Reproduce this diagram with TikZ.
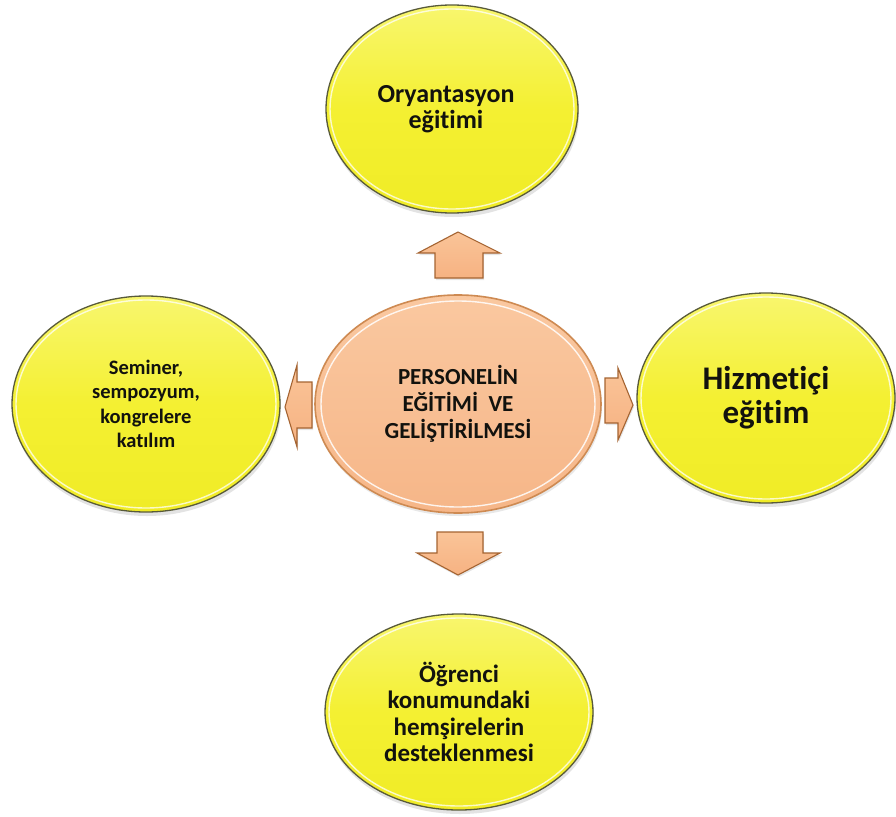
\documentclass[tikz,border=0pt]{standalone}
\usepackage{fontspec}
\setmainfont{Carlito}[Ligatures={NoCommon}]
\usetikzlibrary{shapes.geometric,shadows}

\definecolor{ylwtop}{RGB}{248,246,110}
\definecolor{ylwmid}{RGB}{244,240,50}
\definecolor{ylwbot}{RGB}{240,236,38}
\definecolor{ylwedge}{RGB}{88,90,58}
\definecolor{peachtop}{RGB}{250,200,160}
\definecolor{peachbot}{RGB}{246,182,136}
\definecolor{peachedge}{RGB}{206,138,82}
\definecolor{arrowtop}{RGB}{250,196,152}
\definecolor{arrowbot}{RGB}{246,178,130}
\definecolor{arrowedge}{RGB}{165,100,50}
\definecolor{ink}{RGB}{18,18,14}

\tikzset{
  bubble/.style={ellipse, draw=ylwedge, line width=1.3pt,
    top color=ylwtop, bottom color=ylwbot, middle color=ylwmid,
    align=center, text=ink, inner sep=0pt,
    drop shadow={shadow xshift=1pt, shadow yshift=-4pt, opacity=0.22}},
  hub/.style={ellipse, draw=peachedge, line width=1.6pt,
    top color=peachtop, bottom color=peachbot,
    align=center, text=ink, inner sep=0pt,
    drop shadow={shadow xshift=1pt, shadow yshift=-3pt, opacity=0.18}},
  blockarrow/.style={draw=arrowedge, line width=1.1pt, line join=miter,
    top color=arrowtop, bottom color=arrowbot,
    drop shadow={shadow xshift=1pt, shadow yshift=-2pt, opacity=0.2}},
  shine/.style={draw=white, line width=1.4pt, opacity=0.75}
}

\begin{document}
\begin{tikzpicture}[x=1pt,y=-1pt]
  \fill[white] (0,0) rectangle (896,816);
  \useasboundingbox (0,0) rectangle (896,816);

  % outer topics
  \node[bubble, minimum width=252pt, minimum height=208pt,
        font=\fontsize{26}{26}\selectfont\bfseries] (top) at (452,109)
        {Oryantasyon\hspace*{12pt}\\eğitimi\hspace*{12pt}};
  \node[bubble, minimum width=268pt, minimum height=216pt,
        font=\fontsize{20.5}{24.5}\selectfont\bfseries] (left) at (146,404)
        {Seminer,\\sempozyum,\\kongrelere\\katılım};
  \node[bubble, minimum width=258pt, minimum height=210pt,
        font=\fontsize{33}{34}\selectfont\bfseries] (right) at (766,398)
        {Hizmetiçi\\eğitim};
  \node[bubble, minimum width=268pt, minimum height=196pt,
        font=\fontsize{25}{26.5}\selectfont\bfseries] (bottom) at (459,712)
        {Öğrenci\\konumundaki\\hemşirelerin\\desteklenmesi};

  % inner highlight rings of the outer topics
  \draw[shine] (top.center) ellipse [x radius=122pt, y radius=100pt];
  \draw[shine] (left.center) ellipse [x radius=130pt, y radius=104pt];
  \draw[shine] (right.center) ellipse [x radius=125pt, y radius=101pt];
  \draw[shine] (bottom.center) ellipse [x radius=130pt, y radius=94pt];

  % block arrows pointing out of the hub
  \coordinate (upTip) at (458,232);
  \coordinate (downTip) at (458,575);
  \coordinate (leftTip) at (285,407);
  \coordinate (rightTip) at (633,405);

  \draw[blockarrow] (upTip) -- +(-40,21) -- +(-23,21) -- +(-23,46)
        -- +(25,46) -- +(25,21) -- +(42,21) -- cycle;
  \draw[blockarrow] (downTip) -- +(-41,-22) -- +(-21,-22) -- +(-21,-43)
        -- +(25,-43) -- +(25,-22) -- +(42,-22) -- cycle;
  \draw[blockarrow] (leftTip) -- +(12,-42) -- +(12,-25) -- +(27,-25)
        -- +(27,21) -- +(12,21) -- +(12,40) -- cycle;
  \draw[blockarrow] (rightTip) -- +(-15,-37) -- +(-15,-27) -- +(-28,-27)
        -- +(-28,18) -- +(-15,18) -- +(-15,35) -- cycle;

  % central hub
  \node[hub, minimum width=286pt, minimum height=218pt,
        font=\fontsize{23}{27}\selectfont\bfseries] (hub) at (458,404)
        {PERSONELİN\\EĞİTİMİ\ \ VE\\GELİŞTİRİLMESİ};
  \draw[shine, opacity=0.85] (hub.center) ellipse [x radius=137pt, y radius=103pt];
\end{tikzpicture}
\end{document}
